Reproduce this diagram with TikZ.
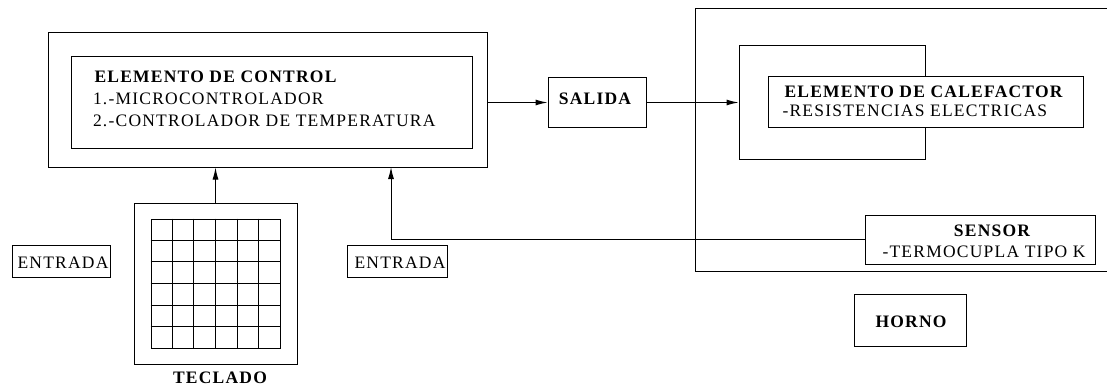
\documentclass[tikz,border=0pt]{standalone}
\usepackage{fontspec}
\setmainfont{Liberation Serif}[LetterSpace=7]
\usetikzlibrary{arrows.meta,calc}

\begin{document}
\begin{tikzpicture}[x=1pt,y=-1pt,
  line width=1pt,
  box/.style={draw, line width=1pt, inner sep=0pt, fill=white},
  lbl/.style={inner sep=0pt, anchor=base, font=\fontsize{17.5}{20}\selectfont},
  lblw/.style={lbl, anchor=base west},
  bold/.style={font=\fontsize{17.5}{20}\selectfont\bfseries},
  arr/.style={-{Latex[length=12pt,width=6pt]}}]
\useasboundingbox (0,0) rectangle (1107,385);

% control unit
\node[box, minimum width=439, minimum height=134] (ctrlout) at (267.5,100) {};
\node[box, minimum width=401, minimum height=91] (ctrlin) at (271.5,102.5) {};
\node[lblw, bold] (ctrlt1) at (94,83) {ELEMENTO DE CONTROL};
\node[lblw] (ctrlt2) at (92.5,105) {1.-MICROCONTROLADOR};
\node[lblw] (ctrlt3) at (92.5,126) {2.-CONTROLADOR DE TEMPERATURA};

% output block
\node[box, minimum width=98, minimum height=49] (salida) at (597,102.5) {};
\node[lbl, bold] (salidat) at (595,105) {SALIDA};

% oven frame (open on the right)
\draw (1107,9) -- (695,9) -- (695,271) -- (1107,271);

% heating element
\node[box, minimum width=186, minimum height=113] (heatout) at (832,102.5) {};
\node[box, minimum width=315, minimum height=50] (heatin) at (925.5,102) {};
\node[lblw, bold] (heatt1) at (784,98) {ELEMENTO DE CALEFACTOR};
\node[lblw] (heatt2) at (782,117) {-RESISTENCIAS ELECTRICAS};

% sensor
\node[box, minimum width=230, minimum height=49] (sensor) at (980,239.5) {};
\node[lbl, bold] (sensort1) at (992,236) {SENSOR};
\node[lblw] (sensort2) at (882,257) {-TERMOCUPLA TIPO K};

% oven label
\node[box, minimum width=112, minimum height=52] (horno) at (910,320) {};
\node[lbl, bold] (hornot) at (911,327) {HORNO};

% keypad
\node[box, minimum width=163, minimum height=161] (keyout) at (215.5,283.5) {};
\node[box, minimum width=129, minimum height=129] (keys) at (215.5,283.5) {};
\foreach \i in {1,...,5} {
  \draw ($(keys.north west)!\i/6!(keys.north east)$) -- ($(keys.south west)!\i/6!(keys.south east)$);
  \draw ($(keys.north west)!\i/6!(keys.south west)$) -- ($(keys.north east)!\i/6!(keys.south east)$);
}
\node[lbl, bold] (teclado) at (220,383) {TECLADO};

% input labels
\node[box, minimum width=98, minimum height=32] (entrada1) at (61,261) {};
\node[lbl] (entrada1t) at (63,268) {ENTRADA};
\node[box, minimum width=100, minimum height=32] (entrada2) at (397,261) {};
\node[lbl] (entrada2t) at (400,268) {ENTRADA};

% connectors
\coordinate (fbin) at (391,167);
\draw[arr] (ctrlout.east |- salida.west) -- (salida.west);
\draw[arr] (salida.east) -- (heatout.west);
\draw[arr] (keyout.north) -- (keyout.north |- ctrlout.south);
\draw[arr] (sensor.west) -| (fbin);
\end{tikzpicture}
\end{document}
